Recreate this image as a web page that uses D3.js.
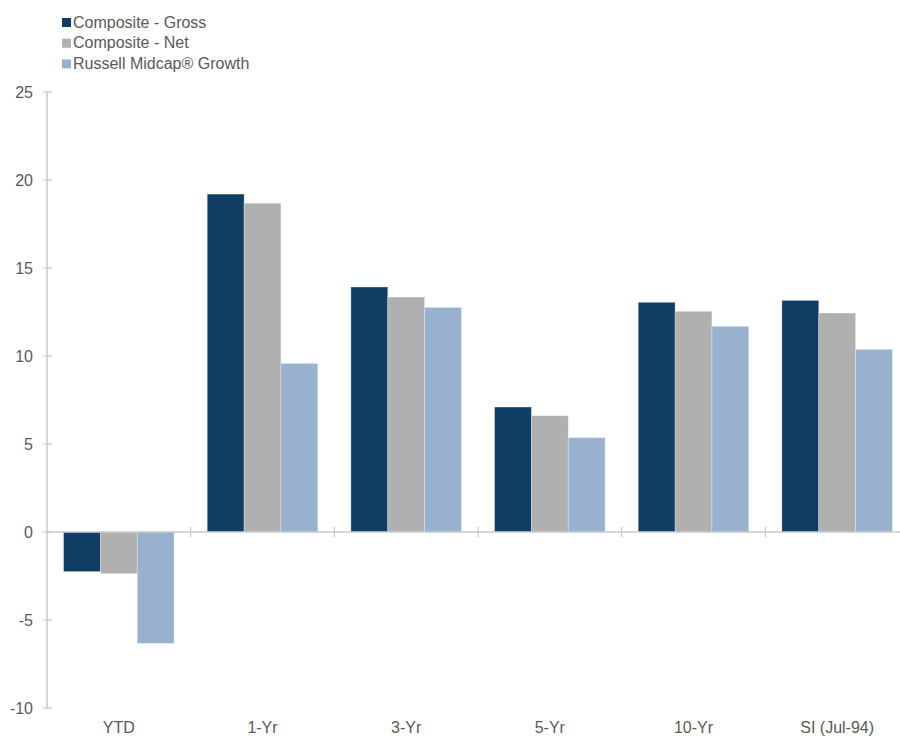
<!DOCTYPE html>
<html>
<head>
    <meta charset="utf-8">
    <title>composite returns</title>
    <style>
        body { margin: 0; background: #fff; }
        text { font-family: "Liberation Sans", Arial, sans-serif; fill: #595959; }
    </style>
</head>
<body>
<script src="https://cdnjs.cloudflare.com/ajax/libs/d3/7.8.5/d3.min.js"></script>
<script>
    // data
    var periods = ["YTD", "1-Yr", "3-Yr", "5-Yr", "10-Yr", "SI (Jul-94)"];
    var seriesNames = ["Composite - Gross", "Composite - Net", "Russell Midcap\u00AE Growth"];
    var gross = [-2.25, 19.2, 13.92, 7.1, 13.05, 13.16];
    var net = [-2.37, 18.68, 13.35, 6.61, 12.54, 12.44];
    var russell = [-6.33, 9.58, 12.76, 5.36, 11.69, 10.38];
    var yTicks = [-10, -5, 0, 5, 10, 15, 20, 25];
    var colors = ["#0f3d63", "#b0b0b0", "#98b1cf"];

    var width = 900, height = 736;
    var svg = d3.select("body").append("svg")
        .attr("width", width).attr("height", height);

    var x = d3.scaleBand().domain(periods).range([47, 909]).paddingInner(0).paddingOuter(0);
    var x1 = d3.scaleBand().domain([0, 1, 2]).range([0, x.bandwidth()]).paddingOuter(0.45).paddingInner(0);
    var y = d3.scaleLinear().domain([-10, 25]).range([708, 92]);

    var axisColor = "#c8c8c8";

    // bars
    var all = [gross, net, russell];
    var groups = svg.selectAll("g.grp")
        .data(periods)
        .enter().append("g")
        .attr("class", "grp")
        .attr("transform", function (d) { return "translate(" + x(d) + ",0)"; });

    groups.selectAll("rect")
        .data(function (d, i) { return all.map(function (s, k) { return { k: k, v: s[i] }; }); })
        .enter().append("rect")
        .attr("x", function (d) { return x1(d.k); })
        .attr("width", x1.bandwidth())
        .attr("y", function (d) { return y(Math.max(0, d.v)); })
        .attr("height", function (d) { return Math.abs(y(d.v) - y(0)); })
        .attr("fill", function (d) { return colors[d.k]; })
        .attr("stroke", "#ffffff").attr("stroke-opacity", 0.35).attr("stroke-width", 0.8);

    // y axis
    var yAxis = svg.append("g").attr("transform", "translate(47,0)");
    yAxis.append("line").attr("x1", 0).attr("x2", 0).attr("y1", y(25)).attr("y2", y(-10))
        .attr("stroke", axisColor).attr("stroke-width", 1.5);
    yAxis.selectAll("line.tk").data(yTicks).enter().append("line")
        .attr("class", "tk")
        .attr("x1", -4).attr("x2", 5)
        .attr("y1", function (d) { return y(d); }).attr("y2", function (d) { return y(d); })
        .attr("stroke", axisColor).attr("stroke-width", 1.2);
    yAxis.selectAll("text").data(yTicks).enter().append("text")
        .attr("x", -14).attr("y", function (d) { return y(d) + 5.5; })
        .attr("text-anchor", "end").attr("font-size", "16px")
        .text(function (d) { return d; });

    // x axis at zero
    svg.append("line").attr("x1", 47).attr("x2", 909).attr("y1", y(0)).attr("y2", y(0))
        .attr("stroke", axisColor).attr("stroke-width", 1.5);
    svg.selectAll("line.xt").data(periods.slice(1)).enter().append("line")
        .attr("class", "xt")
        .attr("x1", function (d) { return x(d); }).attr("x2", function (d) { return x(d); })
        .attr("y1", y(0) - 5).attr("y2", y(0) + 5)
        .attr("stroke", axisColor).attr("stroke-width", 1.2);
    svg.selectAll("text.xl").data(periods).enter().append("text")
        .attr("class", "xl")
        .attr("x", function (d) { return x(d) + x.bandwidth() / 2; })
        .attr("y", 733)
        .attr("text-anchor", "middle").attr("font-size", "16px")
        .text(function (d) { return d; });

    // legend
    var legend = svg.selectAll("g.leg").data(seriesNames).enter().append("g")
        .attr("class", "leg")
        .attr("transform", function (d, i) { return "translate(62," + (18 + i * 20.7) + ")"; });
    legend.append("rect").attr("width", 9).attr("height", 9)
        .attr("fill", function (d, i) { return colors[i]; });
    legend.append("text").attr("x", 11).attr("y", 9.5).attr("font-size", "16px")
        .text(function (d) { return d; });
</script>
</body>
</html>
